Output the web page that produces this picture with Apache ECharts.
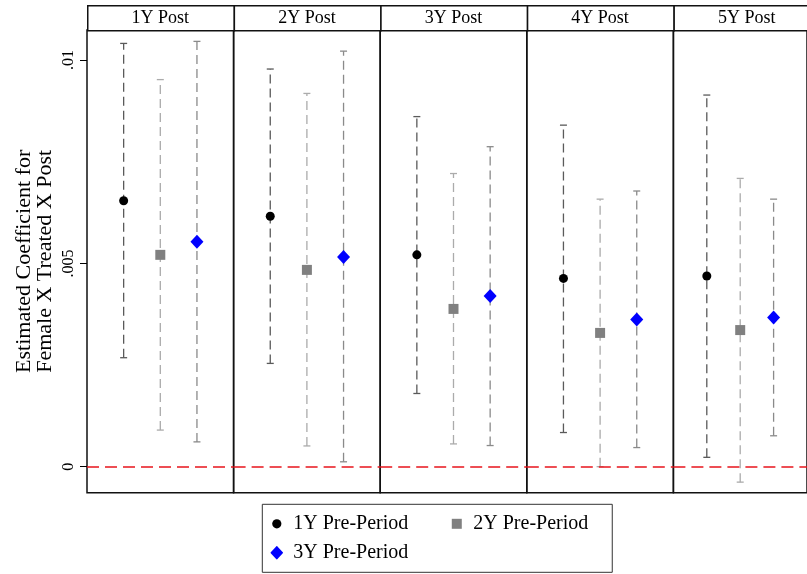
<!DOCTYPE html>
<html>
<head>
<meta charset="utf-8">
<script src="https://cdn.jsdelivr.net/npm/echarts@6/dist/echarts.min.js"></script>
<style>html,body{margin:0;padding:0;background:#fff}#c{width:807px;height:574px}</style>
</head>
<body>
<div id="c"></div>
<script>
// ---- data ----
const panels = ['1Y Post', '2Y Post', '3Y Post', '4Y Post', '5Y Post'];
const seriesNames = ['1Y Pre-Period', '2Y Pre-Period', '3Y Pre-Period'];

const est1Y = [0.00654, 0.00616, 0.00521, 0.00463, 0.00469];
const lo1Y  = [0.00268, 0.00254, 0.00180, 0.00084, 0.00023];
const hi1Y  = [0.01041, 0.00978, 0.00861, 0.00840, 0.00914];

const est2Y = [0.00521, 0.00484, 0.00388, 0.00329, 0.00336];
const lo2Y  = [0.00090, 0.00051, 0.00056, 0.00000, -0.00038];
const hi2Y  = [0.00952, 0.00918, 0.00721, 0.00658, 0.00709];

const est3Y = [0.00553, 0.00516, 0.00420, 0.00362, 0.00367];
const lo3Y  = [0.00061, 0.00012, 0.00052, 0.00047, 0.00076];
const hi3Y  = [0.01046, 0.01022, 0.00787, 0.00678, 0.00658];

const yTicks = [0, 0.005, 0.01];
const yTitle = 'Estimated Coefficient for\nFemale X Treated X Post';

// ---- styling / layout ----
const FONT = "'Liberation Serif', 'Times New Roman', serif";
const PANEL_LEFT = 87, PANEL_W = 146.6, PLOT_TOP = 30, PLOT_BOTTOM = 81.3;
const HEADER_TOP = 5, HEADER_H = 25;
const Y_MIN = -0.00064, Y_MAX = 0.01074;

const ests = [est1Y, est2Y, est3Y];
const los = [lo1Y, lo2Y, lo3Y];
const his = [hi1Y, hi2Y, hi3Y];
const markerColors = ['#000000', '#808080', '#0000ff'];
const barColors = ['#5a5a5a', '#ababab', '#8a8a8a'];
const symbols = ['circle', 'rect', 'diamond'];
const symbolSizes = [9, 10, [13, 14]];

function svgIcon(inner) {
  return 'image://data:image/svg+xml;charset=utf-8,' + encodeURIComponent(
    '<svg xmlns="http://www.w3.org/2000/svg" width="13" height="14" viewBox="0 0 13 14">' + inner + '</svg>');
}
const legendIcons = [
  svgIcon('<circle cx="6.5" cy="7" r="4.6" fill="#000"/>'),
  svgIcon('<rect x="1.5" y="2" width="10" height="10" fill="#808080"/>'),
  svgIcon('<polygon points="6.5,0 13,7 6.5,14 0,7" fill="#0000ff"/>')
];

const grids = [], xAxes = [], yAxes = [], series = [], graphics = [];

panels.forEach((p, i) => {
  const left = PANEL_LEFT + i * PANEL_W;
  grids.push({left: left, width: PANEL_W, top: PLOT_TOP, bottom: PLOT_BOTTOM,
    show: true, borderColor: '#111', borderWidth: 1.5, backgroundColor: 'transparent'});
  xAxes.push({gridIndex: i, type: 'value', min: 0, max: 4, show: false});
  yAxes.push({gridIndex: i, type: 'value', min: Y_MIN, max: Y_MAX,
    axisLine: {show: false}, splitLine: {show: false},
    axisTick: {show: i === 0, length: 7, lineStyle: {color: '#000', width: 1}, customValues: yTicks},
    axisLabel: {show: i === 0, rotate: 90, margin: 10, fontSize: 16, fontFamily: FONT, color: '#000',
      customValues: yTicks,
      formatter: v => v === 0 ? '0' : String(v).replace(/^0/, '')},
    name: i === 0 ? yTitle : '', nameLocation: 'middle', nameRotate: 90, nameGap: 31,
    nameTextStyle: {fontSize: 22, fontFamily: FONT, color: '#000', lineHeight: 21}
  });
  graphics.push({type: 'rect', left: left, top: HEADER_TOP,
    shape: {width: PANEL_W, height: HEADER_H},
    style: {fill: '#fff', stroke: '#111', lineWidth: 1.5}});
  graphics.push({type: 'text', x: left + PANEL_W / 2, y: HEADER_TOP + HEADER_H / 2 + 1,
    style: {text: p, fontSize: 18, fontFamily: FONT, fill: '#000', align: 'center', verticalAlign: 'middle'}});

  for (let k = 0; k < 3; k++) {
    series.push({
      type: 'custom', xAxisIndex: i, yAxisIndex: i, silent: true, z: 2,
      data: [[k + 1, los[k][i], his[k][i]]],
      renderItem: (params, api) => {
        const x = api.value(0);
        const a = api.coord([x, api.value(1)]);
        const b = api.coord([x, api.value(2)]);
        const cw = 3.5;
        const st = {stroke: barColors[k], lineWidth: 1.3};
        return {type: 'group', children: [
          {type: 'line', shape: {x1: a[0], y1: a[1], x2: b[0], y2: b[1]},
            style: Object.assign({lineDash: [9, 5]}, st)},
          {type: 'line', shape: {x1: a[0] - cw, y1: a[1], x2: a[0] + cw, y2: a[1]}, style: st},
          {type: 'line', shape: {x1: b[0] - cw, y1: b[1], x2: b[0] + cw, y2: b[1]}, style: st}
        ]};
      }
    });
  }
  for (let k = 0; k < 3; k++) {
    const s = {
      type: 'scatter', name: seriesNames[k], xAxisIndex: i, yAxisIndex: i, z: 4,
      symbol: symbols[k], symbolSize: symbolSizes[k],
      itemStyle: {color: markerColors[k], opacity: 1},
      data: [[k + 1, ests[k][i]]], silent: true
    };
    if (k === 0) {
      s.markLine = {silent: true, symbol: 'none', z: 3, label: {show: false},
        lineStyle: {color: '#e8141c', type: [12, 6], width: 1.5},
        data: [{yAxis: 0}]};
    }
    series.push(s);
  }
});

const chart = echarts.init(document.getElementById('c'), null, {renderer: 'canvas'});
chart.setOption({
  animation: false,
  backgroundColor: '#fff',
  grid: grids, xAxis: xAxes, yAxis: yAxes, series: series,
  graphic: graphics,
  legend: {
    left: 262.3, top: 504.3, width: 345, orient: 'horizontal',
    padding: [5, 9, 5, 8], itemGap: 0, itemWidth: 13, itemHeight: 14,
    borderColor: '#333', borderWidth: 1, backgroundColor: '#fff',
    textStyle: {fontSize: 20, fontFamily: FONT, color: '#000', lineHeight: 29, padding: [0, 15, 0, 5]},
    data: [
      {name: seriesNames[0], icon: legendIcons[0], textStyle: {padding: [0, 42, 0, 5]}},
      {name: seriesNames[1], icon: legendIcons[1], textStyle: {padding: [0, 15, 0, 5]}},
      {name: seriesNames[2], icon: legendIcons[2], textStyle: {padding: [0, 15, 0, 5]}}
    ]
  }
});
</script>
</body>
</html>
